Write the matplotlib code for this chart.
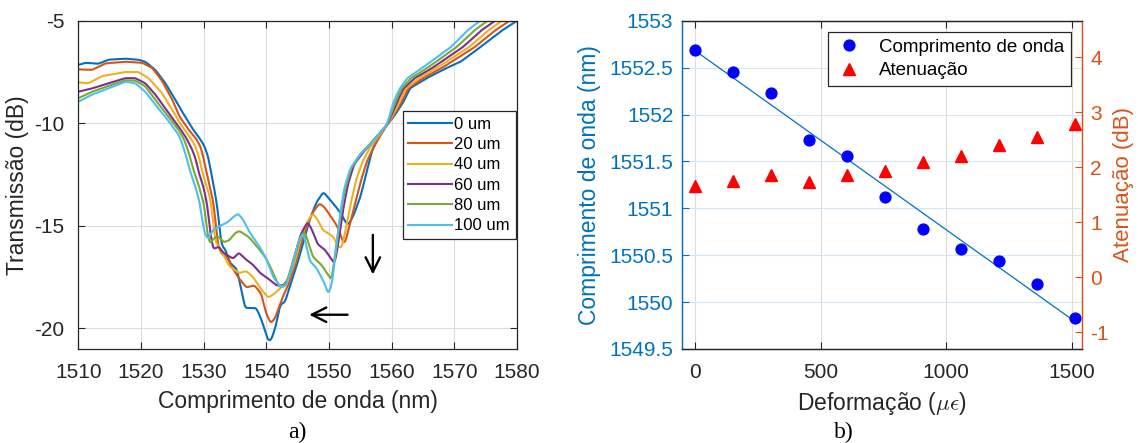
import numpy as np
import matplotlib
matplotlib.use("Agg")
import matplotlib.pyplot as plt
from matplotlib.lines import Line2D

plt.rcParams['font.family'] = ['Liberation Sans', 'DejaVu Sans']
plt.rcParams['mathtext.fontset'] = 'cm'
plt.rcParams['axes.unicode_minus'] = False

# ---------------- (a) transmission spectra ----------------
wl_0um = [1510.0, 1511.1, 1513.2, 1514.8, 1517.5, 1519.6, 1520.7, 1522.3, 1523.9, 1525.5, 1526.4, 1527.3,
          1528.3, 1529.3, 1530.1, 1530.7, 1531.2, 1531.7, 1532.2, 1532.6, 1532.9, 1533.4, 1534.2, 1535.3,
          1536.0, 1536.6, 1537.5, 1538.4, 1539.2, 1540.3, 1540.8, 1541.5, 1542.2, 1543.0, 1543.7, 1544.8,
          1545.9, 1546.9, 1548.0, 1549.1, 1550.1, 1551.2, 1552.0, 1552.6, 1553.1, 1553.9, 1555.0, 1556.0,
          1556.8, 1557.5, 1558.3, 1559.2, 1560.5, 1561.9, 1562.9, 1565.6, 1568.8, 1571.0, 1574.1, 1577.5, 1580.0]
tr_0um = [-7.16, -7.05, -7.10, -6.90, -6.85, -6.90, -7.00, -7.40, -8.05, -8.86, -9.35, -9.80,
          -10.30, -10.70, -11.10, -11.60, -12.40, -13.20, -14.10, -15.30, -16.00, -16.10, -16.80, -17.10,
          -18.10, -19.00, -19.00, -19.00, -19.55, -20.60, -20.55, -19.90, -18.85, -18.70, -18.00, -17.00,
          -15.80, -14.70, -13.85, -13.35, -13.70, -14.10, -14.45, -14.80, -14.95, -14.50, -13.60, -12.40,
          -11.40, -10.90, -10.50, -10.10, -9.60, -8.95, -8.30, -7.80, -7.30, -7.00, -6.30, -5.50, -5.00]

wl_20um = [1510.0, 1512.2, 1514.3, 1517.5, 1520.2, 1521.8, 1523.3, 1525.0, 1526.1, 1527.7, 1528.8, 1529.6,
           1530.4, 1531.0, 1531.6, 1532.0, 1532.4, 1533.0, 1533.7, 1534.5, 1535.5, 1536.8, 1538.1, 1539.2,
           1539.9, 1540.7, 1541.4, 1542.1, 1542.7, 1543.5, 1544.5, 1545.5, 1546.6, 1547.5, 1548.5, 1549.3,
           1550.2, 1551.3, 1552.0, 1552.5, 1553.1, 1554.0, 1555.0, 1556.0, 1556.9, 1558.0, 1559.2, 1560.35,
           1561.6, 1562.6, 1565.0, 1568.0, 1573.2, 1576.4, 1578.8]
tr_20um = [-7.37, -7.40, -7.08, -7.00, -7.05, -7.30, -7.90, -8.85, -9.65, -10.35, -10.75, -11.20,
           -12.30, -13.10, -13.90, -15.20, -16.10, -16.40, -16.50, -17.00, -17.50, -18.00, -17.90, -18.30,
           -19.20, -19.75, -19.50, -18.90, -18.40, -17.90, -17.00, -15.90, -14.90, -14.30, -13.90, -14.10,
           -14.50, -15.00, -15.60, -15.90, -15.20, -14.10, -12.90, -11.90, -11.30, -10.70, -10.10, -9.60,
           -8.95, -8.30, -7.80, -7.30, -6.30, -5.50, -5.00]

wl_40um = [1510.0, 1511.6, 1513.8, 1517.5, 1519.6, 1521.2, 1523.3, 1525.5, 1526.1, 1527.4, 1528.5, 1529.3,
           1529.7, 1530.4, 1531.1, 1531.5, 1531.9, 1532.6, 1533.3, 1534.1, 1535.7, 1536.8, 1537.9, 1539.2,
           1540.3, 1541.3, 1542.4, 1543.4, 1544.5, 1545.5, 1546.5, 1547.4, 1548.2, 1549.0, 1550.6, 1551.5,
           1552.0, 1552.6, 1553.4, 1554.3, 1555.3, 1556.5, 1558.0, 1559.2, 1560.2, 1561.3, 1562.3, 1564.4,
           1567.2, 1572.3, 1575.3, 1577.6]
tr_40um = [-8.00, -8.05, -7.70, -7.50, -7.50, -7.80, -8.50, -9.60, -9.95, -10.50, -11.00, -11.65,
           -12.30, -13.00, -13.70, -14.80, -15.80, -16.10, -16.50, -16.97, -17.30, -17.20, -17.50, -18.10,
           -18.50, -18.30, -18.00, -17.70, -16.80, -15.60, -14.80, -14.40, -14.70, -15.20, -15.50, -16.00,
           -16.10, -15.30, -14.00, -12.80, -11.90, -11.20, -10.60, -10.10, -9.60, -8.95, -8.30, -7.80,
           -7.30, -6.30, -5.50, -5.00]

wl_60um = [1510.0, 1512.2, 1514.8, 1517.5, 1519.1, 1520.7, 1522.3, 1524.4, 1526.1, 1527.2, 1528.2, 1528.8,
           1529.1, 1529.9, 1530.6, 1531.0, 1531.5, 1532.4, 1533.1, 1534.7, 1535.6, 1536.6, 1537.9, 1539.0,
           1540.0, 1541.6, 1542.7, 1543.5, 1544.5, 1545.5, 1546.6, 1547.3, 1548.2, 1549.3, 1550.6, 1550.9,
           1551.5, 1552.2, 1553.0, 1554.0, 1555.5, 1557.2, 1559.2, 1560.0, 1560.9, 1561.9, 1563.7, 1566.5,
           1571.3, 1574.2, 1576.5]
tr_60um = [-8.46, -8.30, -8.05, -7.80, -7.80, -8.05, -8.60, -9.50, -10.20, -10.70, -11.30, -11.80,
           -12.30, -13.00, -14.00, -15.20, -16.15, -16.00, -16.30, -16.60, -16.30, -16.60, -16.90, -17.30,
           -17.50, -17.90, -17.90, -17.60, -16.50, -15.40, -14.80, -15.20, -15.90, -16.15, -16.70, -16.90,
           -15.80, -14.30, -13.00, -12.00, -11.40, -10.80, -10.10, -9.60, -8.95, -8.30, -7.80, -7.30,
           -6.30, -5.50, -5.00]

wl_80um = [1510.0, 1512.2, 1514.8, 1517.5, 1519.1, 1520.7, 1522.3, 1524.4, 1526.1, 1526.9, 1527.7, 1528.4,
           1529.2, 1530.1, 1530.6, 1531.0, 1531.6, 1532.3, 1533.2, 1534.1, 1535.0, 1535.7, 1536.5, 1537.3,
           1538.9, 1540.0, 1540.8, 1542.1, 1543.2, 1544.3, 1545.2, 1546.1, 1546.8, 1547.4, 1548.8, 1550.1,
           1550.4, 1551.0, 1551.7, 1552.5, 1553.5, 1555.0, 1557.0, 1559.2, 1559.85, 1560.6, 1561.6, 1563.1,
           1565.7, 1570.3, 1573.1, 1575.3]
tr_80um = [-8.78, -8.46, -8.18, -7.90, -7.92, -8.20, -8.86, -9.68, -10.36, -10.80, -11.50, -12.30,
           -13.00, -14.00, -15.40, -15.90, -15.60, -15.50, -15.80, -15.70, -15.35, -15.25, -15.40, -15.57,
           -16.15, -16.60, -17.10, -18.00, -17.80, -16.70, -15.70, -15.25, -15.90, -16.50, -16.90, -17.50,
           -17.70, -16.30, -14.80, -13.30, -12.20, -11.50, -10.85, -10.10, -9.60, -8.95, -8.30, -7.80,
           -7.30, -6.30, -5.50, -5.00]

wl_100um = [1510.0, 1512.2, 1514.8, 1517.5, 1519.1, 1520.7, 1522.3, 1523.9, 1526.1, 1526.8, 1527.4, 1527.8,
            1528.7, 1529.4, 1529.8, 1530.2, 1530.7, 1531.5, 1532.6, 1533.7, 1534.6, 1535.5, 1536.3, 1537.3,
            1538.9, 1540.0, 1541.1, 1542.4, 1543.2, 1544.2, 1545.1, 1545.9, 1546.9, 1548.0, 1549.3, 1549.9,
            1550.5, 1551.1, 1551.7, 1552.4, 1553.4, 1555.0, 1557.0, 1559.2, 1559.7, 1560.3, 1561.3, 1562.5,
            1564.9, 1569.4, 1572.0, 1574.1]
tr_100um = [-8.95, -8.60, -8.30, -7.97, -8.05, -8.46, -9.10, -9.68, -10.60, -11.20, -11.80, -12.30,
            -13.10, -13.90, -14.80, -15.40, -15.65, -15.20, -15.00, -14.85, -14.60, -14.40, -14.70, -15.30,
            -16.00, -16.60, -17.50, -18.00, -17.90, -16.90, -15.80, -15.30, -16.70, -17.05, -17.80, -18.35,
            -17.80, -16.20, -14.60, -13.20, -12.20, -11.50, -10.90, -10.10, -9.60, -8.95, -8.30, -7.80,
            -7.30, -6.30, -5.50, -5.00]

spectrum_labels = ['0 um', '20 um', '40 um', '60 um', '80 um', '100 um']
spectrum_colors = ['#0072BD', '#D95319', '#EDB120', '#7E2F8E', '#77AC30', '#4DBEEE']

# ---------------- (b) wavelength shift and attenuation ----------------
strain = [0, 151, 303, 454, 606, 757, 909, 1060, 1212, 1363, 1515]
wavelength = [1552.69, 1552.45, 1552.23, 1551.73, 1551.56, 1551.12, 1550.78, 1550.57, 1550.44, 1550.19, 1549.83]
attenuation = [1.67, 1.75, 1.87, 1.73, 1.87, 1.94, 2.09, 2.21, 2.41, 2.56, 2.79]


def smooth_trace(wl, tr, step=0.05, sigma=0.18):
    """Resample a trace on a fine grid and round its corners slightly."""
    wl = np.asarray(wl, float)
    tr = np.asarray(tr, float)
    x = np.arange(wl[0], wl[-1] + step / 2, step)
    y = np.interp(x, wl, tr)
    half = int(3 * sigma / step)
    k = np.exp(-0.5 * (np.arange(-half, half + 1) * step / sigma) ** 2)
    k /= k.sum()
    ypad = np.concatenate([np.full(half, y[0]), y, np.full(half, y[-1])])
    return x, np.convolve(ypad, k, mode='valid')


DARK = '#262626'
W, H = 1138, 443
fig = plt.figure(figsize=(W / 100, H / 100), dpi=100)

# ---- panel a
axA = fig.add_axes([78.3 / W, 1 - 349 / H, (517 - 78.3) / W, (349 - 20.7) / H])
traces = [(wl_0um, tr_0um), (wl_20um, tr_20um), (wl_40um, tr_40um),
          (wl_60um, tr_60um), (wl_80um, tr_80um), (wl_100um, tr_100um)]
for (wl, tr), lab, col in zip(traces, spectrum_labels, spectrum_colors):
    x, y = smooth_trace(wl, tr)
    axA.plot(x, y, color=col, lw=1.5, label=lab)

axA.set_xlim(1510, 1580)
axA.set_ylim(-21, -5)
axA.set_xticks(np.arange(1510, 1581, 10))
axA.set_yticks([-20, -15, -10, -5])
axA.grid(True, color='#dcdcdc', lw=0.8)
axA.set_axisbelow(True)
axA.tick_params(direction='in', length=5, width=0.8, top=True, right=True,
                labelsize=15, colors=DARK, pad=10)
for s in axA.spines.values():
    s.set_color(DARK)
    s.set_linewidth(0.9)
axA.set_xlabel('Comprimento de onda (nm)', fontsize=16.5, color=DARK, labelpad=6)
axA.set_ylabel('Transmissão (dB)', fontsize=16.5, color=DARK, labelpad=4)

legA = axA.legend(loc='upper right', bbox_to_anchor=(0.997, 0.725), fontsize=12,
                  frameon=True, fancybox=False, edgecolor=DARK, framealpha=1,
                  handlelength=2.6, handletextpad=0.15, labelspacing=0.32,
                  borderpad=0.35, borderaxespad=0)
legA.get_frame().set_linewidth(0.9)

# shift arrows
axA.annotate('', xy=(1557.0, -17.5), xytext=(1557.0, -15.3),
             arrowprops=dict(arrowstyle='->', color='k', lw=1.7, mutation_scale=26))
axA.annotate('', xy=(1546.4, -19.33), xytext=(1553.4, -19.33),
             arrowprops=dict(arrowstyle='->', color='k', lw=1.7, mutation_scale=26))

# ---- panel b
BLUE_AX = '#0072BD'
ORANGE_AX = '#D95319'
axB = fig.add_axes([681.7 / W, 1 - 349 / H, (1081.7 - 681.7) / W, (349 - 20.7) / H])
axB2 = axB.twinx()

fit = np.polyfit(strain, wavelength, 1)
xs = np.array([strain[0], strain[-1]])
axB.plot(xs, np.polyval(fit, xs), color=BLUE_AX, lw=0.9)
axB.plot(strain, wavelength, 'o', color='#0000FF', ms=7.8, mec='#0000FF')
axB2.plot(strain, attenuation, '^', color='#FF0000', ms=8.6, mec='#FF0000')

axB.set_xlim(-53, 1540)
axB.set_ylim(1549.5, 1553)
axB.set_xticks([0, 500, 1000, 1500])
axB.set_yticks(np.arange(1549.5, 1553.01, 0.5))
axB.set_yticklabels(['1549.5', '1550', '1550.5', '1551', '1551.5', '1552', '1552.5', '1553'])
axB2.set_ylim(-1.30, 4.665)
axB2.set_yticks([-1, 0, 1, 2, 3, 4])

axB.xaxis.grid(True, color='#dcdcdc', lw=0.8)
axB.yaxis.grid(True, color='#d6e6f3', lw=0.8)
axB.set_axisbelow(True)

axB.tick_params(axis='x', direction='in', length=5, width=0.8, top=True,
                labelsize=15, colors=DARK, pad=10)
axB.tick_params(axis='y', direction='in', length=5, width=0.8, labelsize=15,
                colors=BLUE_AX, pad=6)
axB2.tick_params(axis='y', direction='in', length=5, width=0.8, labelsize=15,
                 colors=ORANGE_AX, pad=6)
for ax in (axB, axB2):
    ax.spines['top'].set_color(DARK)
    ax.spines['bottom'].set_color(DARK)
    ax.spines['left'].set_color(BLUE_AX)
    ax.spines['right'].set_color(ORANGE_AX)
    for s in ax.spines.values():
        s.set_linewidth(0.9)

axB.set_xlabel(r'Deformação ($\mu\epsilon$)', fontsize=16.5, color=DARK, labelpad=6)
axB.set_ylabel('Comprimento de onda (nm)', fontsize=16.5, color=BLUE_AX, labelpad=6)
axB2.set_ylabel('Atenuação (dB)', fontsize=16, color=ORANGE_AX, labelpad=3)

handles = [Line2D([], [], ls='none', marker='o', color='#0000FF', ms=7.8),
           Line2D([], [], ls='none', marker='^', color='#FF0000', ms=8.6)]
legB = axB2.legend(handles, ['Comprimento de onda', 'Atenuação'], loc='upper right',
                   bbox_to_anchor=(0.973, 0.966), fontsize=13.5, frameon=True,
                   fancybox=False, edgecolor=DARK, framealpha=1, handlelength=1.6,
                   handletextpad=0.8, labelspacing=0.35, borderpad=0.35, borderaxespad=0)
legB.get_frame().set_linewidth(0.9)

# panel captions
fig.text(297 / W, 1 - 432 / H, 'a)', ha='center', va='center', fontsize=17,
         family='Liberation Serif', color='k')
fig.text(844 / W, 1 - 432 / H, 'b)', ha='center', va='center', fontsize=17,
         family='Liberation Serif', color='k')

fig.savefig('out.png', dpi=100)
